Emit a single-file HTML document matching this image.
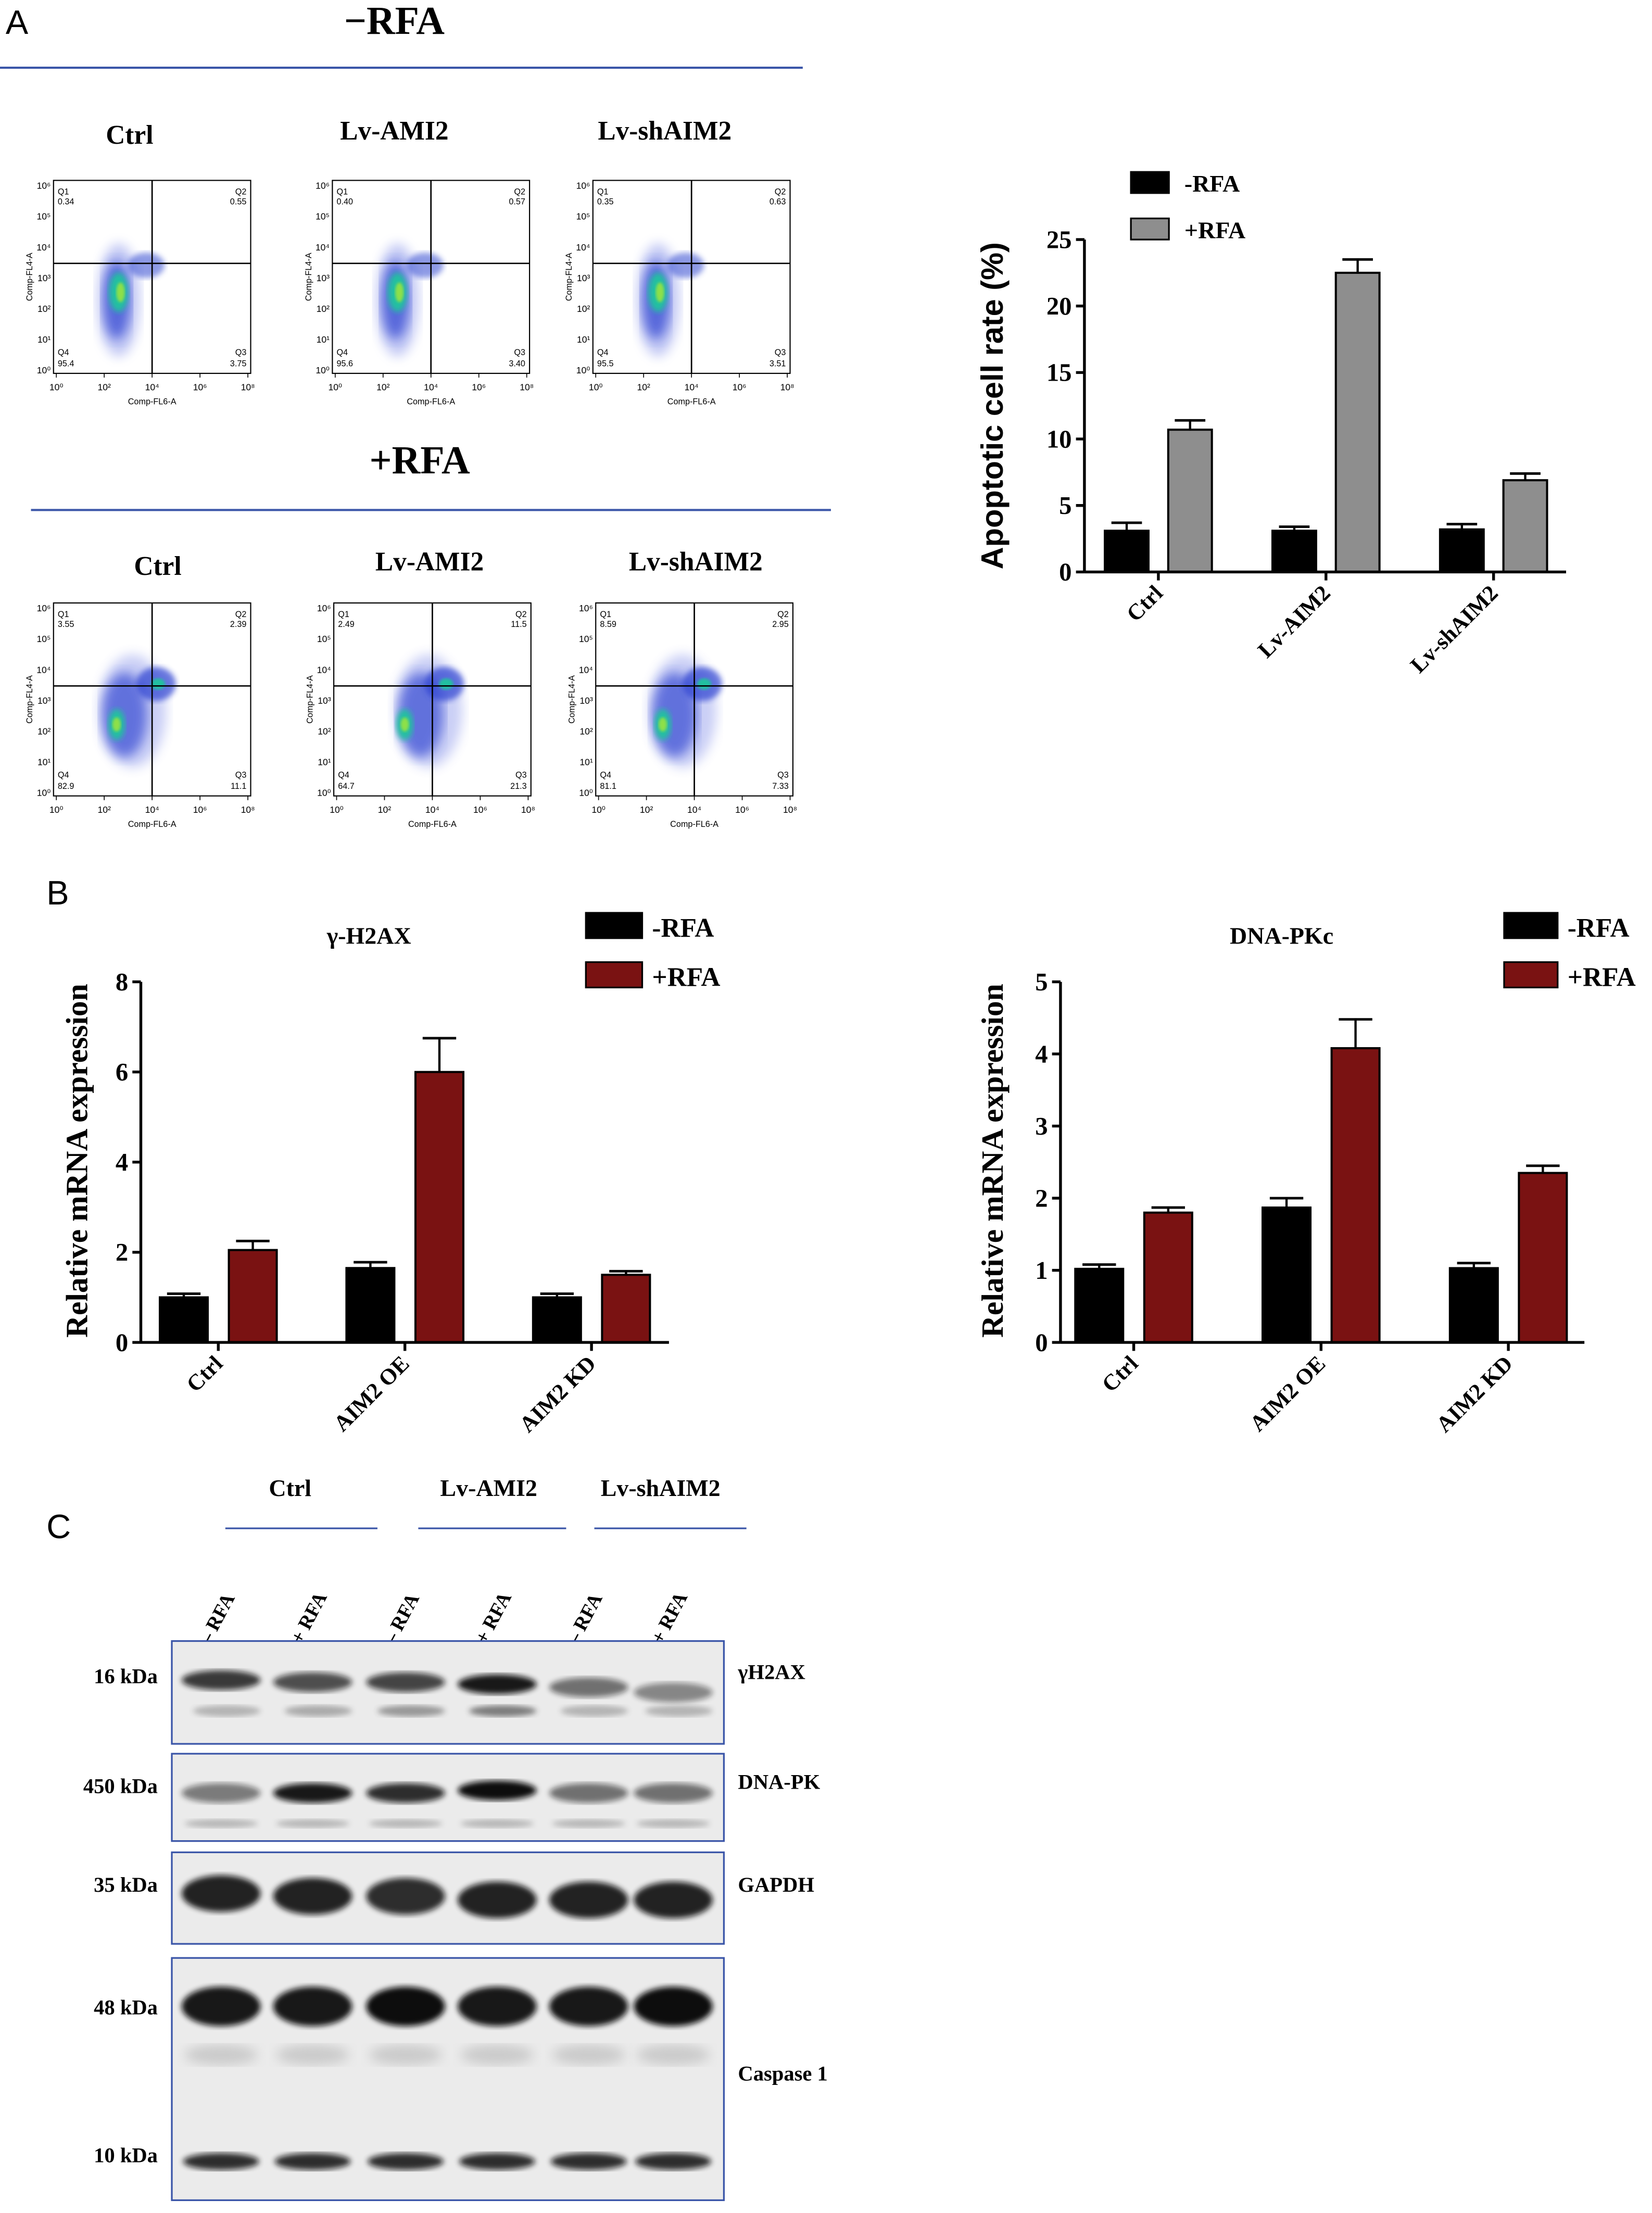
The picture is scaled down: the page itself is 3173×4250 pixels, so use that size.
<!DOCTYPE html>
<html><head><meta charset="utf-8"><style>
html,body{margin:0;padding:0;background:#fff;}
svg{display:block;}
.serif{font-family:"Liberation Serif",serif;font-weight:bold;}
.sans{font-family:"Liberation Sans",sans-serif;}
</style></head><body>
<svg id="fig" width="3173" height="4250" viewBox="0 0 1173 1571" xmlns="http://www.w3.org/2000/svg">
<defs>
<filter id="blur2"><feGaussianBlur stdDeviation="2"/></filter>
<filter id="blur4"><feGaussianBlur stdDeviation="4"/></filter>
<filter id="blur1"><feGaussianBlur stdDeviation="1"/></filter>
</defs>
<rect width="1173" height="1571" fill="#fff"/>
<text x="4" y="24" class="sans" font-size="24">A</text>
<text x="280" y="24" class="serif" font-size="28" text-anchor="middle">−RFA</text>
<line x1="0" y1="48" x2="570" y2="48" stroke="#3a55a8" stroke-width="1.5"/>
<text x="92" y="102" class="serif" font-size="19" text-anchor="middle">Ctrl</text>
<text x="280" y="99" class="serif" font-size="19" text-anchor="middle">Lv-AMI2</text>
<text x="472" y="99" class="serif" font-size="19" text-anchor="middle">Lv-shAIM2</text>
<text x="298" y="336" class="serif" font-size="28" text-anchor="middle">+RFA</text>
<line x1="22" y1="362" x2="590" y2="362" stroke="#3a55a8" stroke-width="1.5"/>
<text x="112" y="408" class="serif" font-size="19" text-anchor="middle">Ctrl</text>
<text x="305" y="405" class="serif" font-size="19" text-anchor="middle">Lv-AMI2</text>
<text x="494" y="405" class="serif" font-size="19" text-anchor="middle">Lv-shAIM2</text>
<g id="flow"></g>
<g id="chartA"></g>
<g id="chartB1"></g>
<g id="chartB2"></g>
<text x="33" y="642" class="sans" font-size="24">B</text>
<text x="33" y="1092" class="sans" font-size="24">C</text>
<text x="206" y="1062" class="serif" font-size="17" text-anchor="middle">Ctrl</text>
<text x="347" y="1062" class="serif" font-size="17" text-anchor="middle">Lv-AMI2</text>
<text x="469" y="1062" class="serif" font-size="17" text-anchor="middle">Lv-shAIM2</text>
<line x1="160" y1="1085" x2="268" y2="1085" stroke="#3a55a8" stroke-width="1.2"/>
<line x1="297" y1="1085" x2="402" y2="1085" stroke="#3a55a8" stroke-width="1.2"/>
<line x1="422" y1="1085" x2="530" y2="1085" stroke="#3a55a8" stroke-width="1.2"/>
<g id="blots"></g>
</svg>
<script>
const NS="http://www.w3.org/2000/svg";
function mk(parent,tag,attrs,text){const e=document.createElementNS(NS,tag);for(const k in attrs)e.setAttribute(k,attrs[k]);if(text!==undefined)e.textContent=text;parent.appendChild(e);return e;}

const catsA=["Ctrl","Lv-AIM2","Lv-shAIM2"];
const negA=[3.1,3.1,3.2];
const negErrA=[3.7,3.4,3.6];
const posA=[10.7,22.5,6.9];
const posErrA=[11.4,23.5,7.4];
const ticksA=[0,5,10,15,20,25];
const catsB=["Ctrl","AIM2 OE","AIM2 KD"];
const negB1=[1.0,1.65,1.0];
const negErrB1=[1.08,1.78,1.08];
const posB1=[2.05,6.0,1.5];
const posErrB1=[2.25,6.75,1.58];
const ticksB1=[0,2,4,6,8];
const negB2=[1.02,1.87,1.03];
const negErrB2=[1.08,2.0,1.1];
const posB2=[1.8,4.08,2.35];
const posErrB2=[1.87,4.48,2.45];
const ticksB2=[0,1,2,3,4,5];

function barChart(g,cfg){
  const y=v=>cfg.y0-(v-cfg.min)/(cfg.max-cfg.min)*(cfg.y0-cfg.yTop);
  const gx=i=>cfg.g0+i*cfg.gStep;
  for(let i=0;i<cfg.cats.length;i++){
    const c=gx(i);
    [[cfg.neg,cfg.negErr,cfg.negCol,-1,'neg'],[cfg.pos,cfg.posErr,cfg.posCol,1,'pos']].forEach(s=>{
      const x=s[3]<0?c-cfg.gap/2-cfg.bw:c+cfg.gap/2;
      const er=mk(g,'line',{x1:x+cfg.bw/2,x2:x+cfg.bw/2,y1:y(s[0][i]),y2:y(s[1][i]),stroke:'#000','stroke-width':1.6});
      
      
      const cap=mk(g,'line',{x1:x+cfg.bw*0.15,x2:x+cfg.bw*0.85,y1:y(s[1][i]),y2:y(s[1][i]),stroke:'#000','stroke-width':1.8});
      
      
      const r=mk(g,'rect',{x:x,y:y(s[0][i]),width:cfg.bw,height:cfg.y0-y(s[0][i]),fill:s[2],stroke:'#000','stroke-width':1.5});
      
      
    });
  }
  const ya=mk(g,'line',{x1:cfg.x0,x2:cfg.x0,y1:cfg.yTop,y2:cfg.y0,stroke:'#000','stroke-width':2});
  
  
  const xa=mk(g,'line',{x1:cfg.x0,x2:cfg.xEnd,y1:cfg.y0,y2:cfg.y0,stroke:'#000','stroke-width':2});
  
  
  cfg.ticks.forEach(t=>{
    mk(g,'line',{x1:cfg.x0-6,x2:cfg.x0,y1:y(t),y2:y(t),stroke:'#000','stroke-width':2});
    const tl=mk(g,'text',{x:cfg.x0-9,y:y(t)+6,'text-anchor':'end','font-size':cfg.tickFs,class:'serif'},String(t));
    
    
  });
  for(let i=0;i<cfg.cats.length;i++){
    const c=gx(i);
    mk(g,'line',{x1:c,x2:c,y1:cfg.y0,y2:cfg.y0+6,stroke:'#000','stroke-width':2});
    const xl=mk(g,'text',{x:c+4,y:cfg.y0+16,'text-anchor':'end','font-size':cfg.catFs,class:'serif',transform:`rotate(-45 ${c+4} ${cfg.y0+16})`},cfg.cats[i]);
    
    
  }
  const yt=mk(g,'text',{x:cfg.ylx,y:cfg.yly,'text-anchor':'middle','font-size':cfg.ylFs,class:cfg.ylClass,'font-weight':'bold',transform:`rotate(-90 ${cfg.ylx} ${cfg.yly})`},cfg.ylabel);
  
  
  if(cfg.title){
    const tt=mk(g,'text',{x:cfg.tx,y:cfg.ty,'text-anchor':'middle','font-size':17,class:'serif'},cfg.title);
    
    
  }
  const L=cfg.leg;
  [[cfg.negCol,'-RFA',0],[cfg.posCol,'+RFA',1]].forEach(s=>{
    const lr=mk(g,'rect',{x:L.x,y:L.y+s[2]*L.dy,width:L.w,height:L.h,fill:s[0],stroke:'#000','stroke-width':1.2});
    
    
    const lt=mk(g,'text',{x:L.x+L.w+L.tg,y:L.y+s[2]*L.dy+L.h-1,'font-size':L.fs,class:'serif','font-weight':L.fw},s[1]);
    
    
  });
}

barChart(document.getElementById('chartA'),{cats:catsA,neg:negA,negErr:negErrA,pos:posA,posErr:posErrA,ticks:ticksA,
  min:0,max:25,x0:770,xEnd:1112,y0:406,yTop:170,g0:822.5,gStep:119,bw:31,gap:14,negCol:'#000',posCol:'#8e8e8e',
  tickFs:18,catFs:16,ylabel:'Apoptotic cell rate (%)',ylx:712,yly:288,ylFs:22,ylClass:'sans',
  leg:{x:803,y:122,w:27,h:15,dy:33,tg:11,fs:17,fw:'normal'}});
barChart(document.getElementById('chartB1'),{cats:catsB,neg:negB1,negErr:negErrB1,pos:posB1,posErr:posErrB1,ticks:ticksB1,
  min:0,max:8,x0:100,xEnd:475,y0:953,yTop:697,g0:155,gStep:132.5,bw:34,gap:15,negCol:'#000',posCol:'#7a1212',
  tickFs:18,catFs:16,ylabel:'Relative mRNA expression',ylx:62,yly:824,ylFs:22,ylClass:'serif',title:'γ-H2AX',tx:262,ty:670,
  leg:{x:416,y:648,w:40,h:18,dy:35,tg:7,fs:19,fw:'bold'}});
barChart(document.getElementById('chartB2'),{cats:catsB,neg:negB2,negErr:negErrB2,pos:posB2,posErr:posErrB2,ticks:ticksB2,
  min:0,max:5,x0:753,xEnd:1125,y0:953,yTop:697,g0:805,gStep:133,bw:34,gap:15,negCol:'#000',posCol:'#7a1212',
  tickFs:18,catFs:16,ylabel:'Relative mRNA expression',ylx:712,yly:824,ylFs:22,ylClass:'serif',title:'DNA-PKc',tx:910,ty:670,
  leg:{x:1068,y:648,w:38,h:18,dy:35,tg:7,fs:19,fw:'bold'}});

const flowQ=[[["0.34","0.55","3.75","95.4"],["0.40","0.57","3.40","95.6"],["0.35","0.63","3.51","95.5"]],
             [["3.55","2.39","11.1","82.9"],["2.49","11.5","21.3","64.7"],["8.59","2.95","7.33","81.1"]]];
const flowPos=[[[38,128],[236,128],[421,128]],[[38,428],[237,428],[423,428]]];
const fg=document.getElementById('flow');
for(let r=0;r<2;r++)for(let c=0;c<3;c++){
  const [x,y]=flowPos[r][c],w=140,h=137;const q=flowQ[r][c];
  const g=mk(fg,'g',{});
  
  
  const cx=x+w*0.5, cy=y+h*0.43;
  if(r===0){
    mk(g,'ellipse',{cx:x+w*0.33,cy:y+h*0.62,rx:15,ry:40,fill:'#5060e0',opacity:0.35,filter:'url(#blur4)'});
    mk(g,'ellipse',{cx:x+w*0.32,cy:y+h*0.62,rx:10,ry:28,fill:'#2a3fd0',opacity:0.7,filter:'url(#blur4)'});
    mk(g,'ellipse',{cx:x+w*0.33,cy:y+h*0.58,rx:7,ry:14,fill:'#22c0a0',filter:'url(#blur2)'});
    mk(g,'ellipse',{cx:x+w*0.34,cy:y+h*0.58,rx:3,ry:7,fill:'#8de04a',filter:'url(#blur1)'});
    mk(g,'ellipse',{cx:x+w*0.47,cy:y+h*0.44,rx:13,ry:9,fill:'#3048d0',opacity:0.55,filter:'url(#blur2)'});
  } else {
    const dx=c===1?0.08:(c===2?0.04:0);
    mk(g,'ellipse',{cx:x+w*(0.4+dx),cy:y+h*0.56,rx:24,ry:40,fill:'#5060e0',opacity:0.3,filter:'url(#blur4)'});
    mk(g,'ellipse',{cx:x+w*(0.36+dx),cy:y+h*0.58,rx:16,ry:30,fill:'#2a3fd0',opacity:0.65,filter:'url(#blur4)'});
    mk(g,'ellipse',{cx:x+w*(0.32+dx/2),cy:y+h*0.63,rx:6,ry:11,fill:'#22c0a0',filter:'url(#blur2)'});
    mk(g,'ellipse',{cx:x+w*(0.32+dx/2),cy:y+h*0.63,rx:3,ry:5,fill:'#8de04a',filter:'url(#blur1)'});
    mk(g,'ellipse',{cx:x+w*(0.52+dx/2),cy:y+h*0.42,rx:14,ry:12,fill:'#2a3fd0',opacity:0.7,filter:'url(#blur2)'});
    mk(g,'ellipse',{cx:x+w*(0.53+dx/2),cy:y+h*0.42,rx:5,ry:4,fill:'#22c0a0',filter:'url(#blur1)'});
  }
  mk(g,'rect',{x:x,y:y,width:w,height:h,fill:'none',stroke:'#000','stroke-width':0.8});
  mk(g,'line',{x1:cx,x2:cx,y1:y,y2:y+h,stroke:'#000','stroke-width':1});
  mk(g,'line',{x1:x,x2:x+w,y1:cy,y2:cy,stroke:'#000','stroke-width':1});
  const fs=6;
  mk(g,'text',{x:x+3,y:y+10,'font-size':fs,class:'sans'},'Q1');
  mk(g,'text',{x:x+3,y:y+17,'font-size':fs,class:'sans'},q[0]);
  mk(g,'text',{x:x+w-3,y:y+10,'font-size':fs,class:'sans','text-anchor':'end'},'Q2');
  mk(g,'text',{x:x+w-3,y:y+17,'font-size':fs,class:'sans','text-anchor':'end'},q[1]);
  mk(g,'text',{x:x+w-3,y:y+h-13,'font-size':fs,class:'sans','text-anchor':'end'},'Q3');
  mk(g,'text',{x:x+w-3,y:y+h-5,'font-size':fs,class:'sans','text-anchor':'end'},q[2]);
  mk(g,'text',{x:x+3,y:y+h-13,'font-size':fs,class:'sans'},'Q4');
  mk(g,'text',{x:x+3,y:y+h-5,'font-size':fs,class:'sans'},q[3]);
  for(let k=0;k<5;k++){
    const tx=x+2+k*(w-4)/4;
    mk(g,'line',{x1:tx,x2:tx,y1:y+h,y2:y+h+3,stroke:'#000','stroke-width':0.6});
    mk(g,'text',{x:tx,y:y+h+12,'font-size':6.5,class:'sans','text-anchor':'middle'},'10'+['⁰','²','⁴','⁶','⁸'][k]);
  }
  for(let k=0;k<7;k++){
    const ty=y+h-2-k*(h-6)/6;
    mk(g,'text',{x:x-2,y:ty+2,'font-size':6.5,class:'sans','text-anchor':'end'},'10'+['⁰','¹','²','³','⁴','⁵','⁶'][k]);
  }
  mk(g,'text',{x:x+w/2,y:y+h+22,'font-size':6,class:'sans','text-anchor':'middle'},'Comp-FL6-A');
  mk(g,'text',{x:x-15,y:y+h/2,'font-size':6,class:'sans','text-anchor':'middle',transform:`rotate(-90 ${x-15} ${y+h/2})`},'Comp-FL4-A');
}

const laneLabels=["– RFA","+ RFA","– RFA","+ RFA","– RFA","+ RFA"];
const laneX=[157,222,288,353,418,478];
const bg=document.getElementById('blots');
laneLabels.forEach((l,i)=>{
  const t=mk(bg,'text',{x:laneX[i]-8,y:1168,'font-size':14,class:'serif','font-weight':'normal',transform:`rotate(-62 ${laneX[i]-8} 1168)`},l);
  
  
});
const blots=[{y:1165,h:73,name:'gamma-h2ax',left:'16 kDa',ly:1195,right:'γH2AX',ry:1192,
  bands:[[0.1,0.38,0.8,0.3],[0.1,0.4,0.7,0.35],[0.1,0.4,0.75,0.45],[0.1,0.42,0.95,0.6],[0.1,0.45,0.55,0.3],[0.1,0.5,0.45,0.3]]},
 {y:1245,h:62,name:'dna-pk',left:'450 kDa',ly:1273,right:'DNA-PK',ry:1270,bands:[[0.1,0.45,0.5],[0.1,0.45,0.95],[0.1,0.45,0.85],[0.1,0.42,1],[0.1,0.45,0.55],[0.1,0.45,0.55]]},
 {y:1315,h:65,name:'gapdh',left:'35 kDa',ly:1343,right:'GAPDH',ry:1343,bands:[[0.1,0.45,0.9],[0.1,0.48,0.9],[0.1,0.48,0.85],[0.1,0.52,0.9],[0.1,0.52,0.9],[0.1,0.52,0.9]]},
 {y:1390,h:172,name:'caspase-1',left:'48 kDa',ly:1430,right:'Caspase 1',ry:1477,bands:[[0.1,0.2,0.95],[0.1,0.2,0.95],[0.1,0.2,1],[0.1,0.2,0.95],[0.1,0.2,0.95],[0.1,0.2,1]]}];
blots.forEach(b=>{
  const g=mk(bg,'g',{});
  
  
  mk(g,'rect',{x:122,y:b.y,width:392,height:b.h,fill:'#ebebeb'});
  b.bands.forEach((d,i)=>{
    const by=b.y+b.h*d[1];
    const hh=b.name==='caspase-1'?14:(b.name==='gapdh'?13:7);
    mk(g,'ellipse',{cx:laneX[i],cy:by,rx:28,ry:hh,fill:'#111',opacity:d[2],filter:'url(#blur2)'});
    if(b.name==='gamma-h2ax'&&d[3]) mk(g,'ellipse',{cx:laneX[i]+4,cy:b.y+b.h*0.68,rx:24,ry:4,fill:'#333',opacity:d[3],filter:'url(#blur2)'});
    if(b.name==='caspase-1'){
      mk(g,'ellipse',{cx:laneX[i],cy:b.y+b.h*0.4,rx:26,ry:7,fill:'#999',opacity:0.4,filter:'url(#blur4)'});
      mk(g,'ellipse',{cx:laneX[i],cy:b.y+b.h*0.84,rx:27,ry:6,fill:'#111',opacity:0.85,filter:'url(#blur2)'});
    }
    if(b.name==='dna-pk') mk(g,'ellipse',{cx:laneX[i],cy:b.y+b.h*0.8,rx:26,ry:3,fill:'#666',opacity:0.4,filter:'url(#blur2)'});
  });
  mk(g,'rect',{x:122,y:b.y,width:392,height:b.h,fill:'none',stroke:'#3a55a8','stroke-width':1.2});
  const lt=mk(bg,'text',{x:112,y:b.ly,'font-size':15,class:'serif','text-anchor':'end'},b.left);
  
  
  const rt=mk(bg,'text',{x:524,y:b.ry,'font-size':15,class:'serif'},b.right);
  
  
});
const tenK=mk(bg,'text',{x:112,y:1535,'font-size':15,class:'serif','text-anchor':'end'},'10 kDa');


</script>
</body></html>
